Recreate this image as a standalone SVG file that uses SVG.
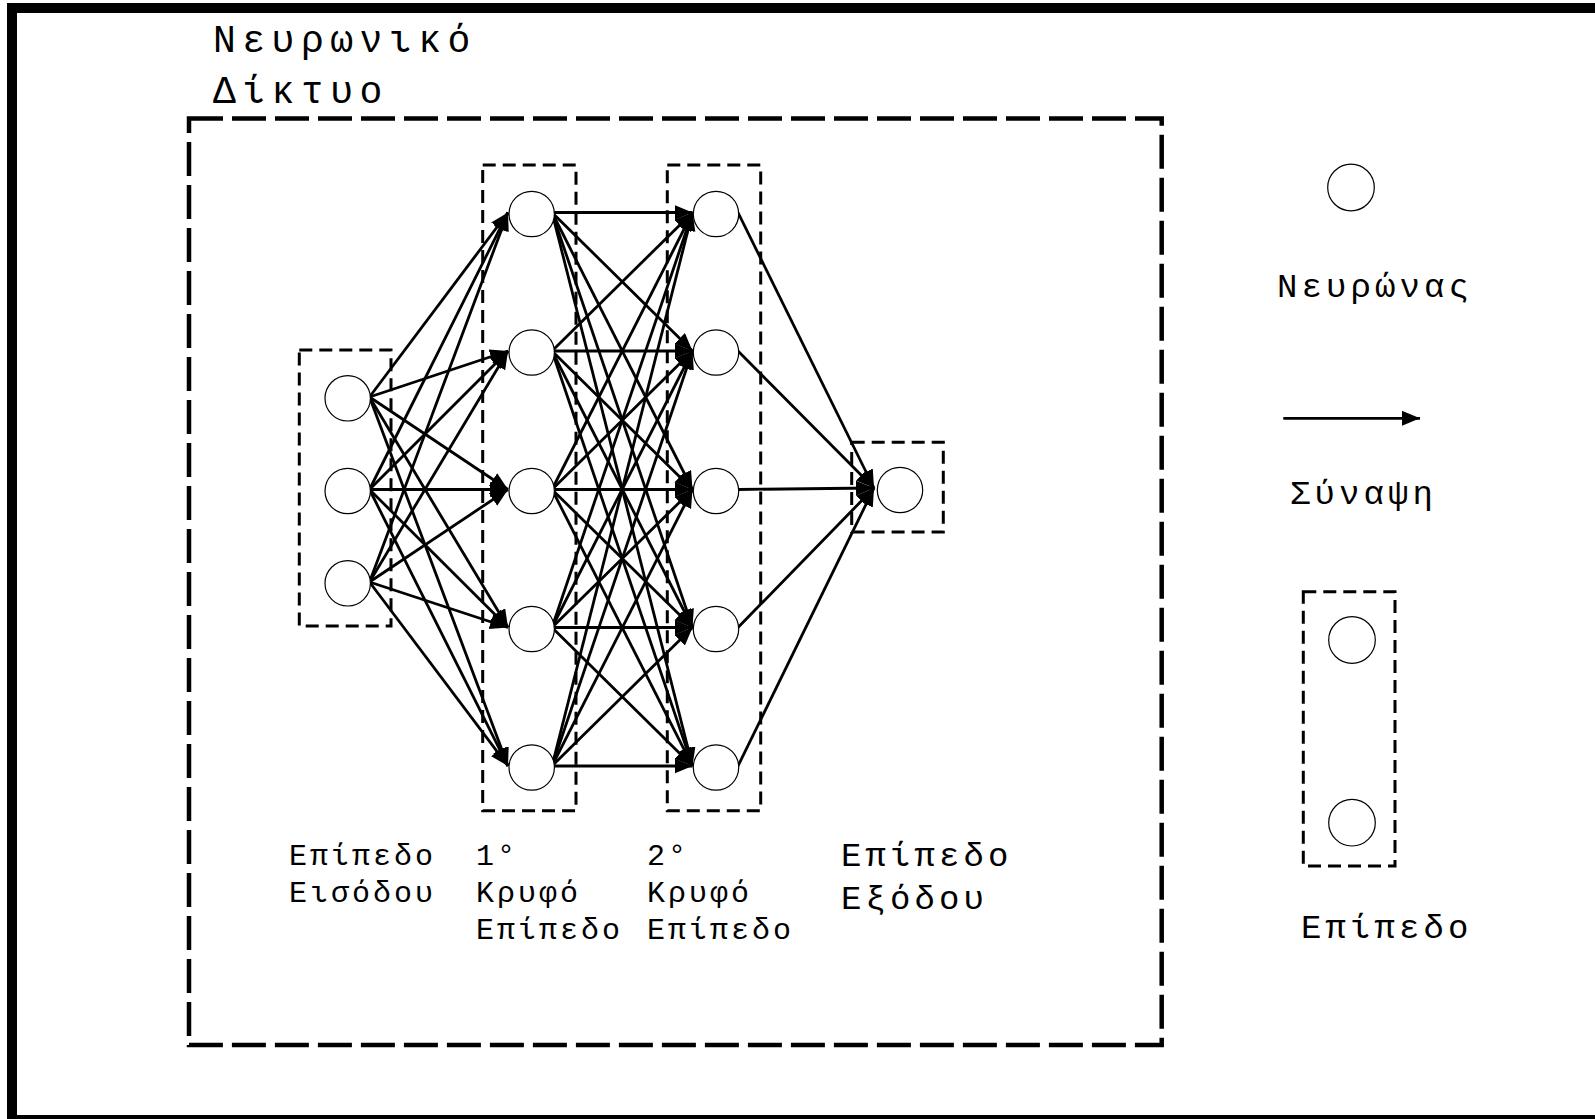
<svg xmlns="http://www.w3.org/2000/svg" width="1595" height="1119" viewBox="0 0 1595 1119">
<defs>
<style>
.txt{font-family:"Liberation Mono","DejaVu Sans Mono",monospace;fill:#000}
.t1{font-size:38px;letter-spacing:6.5px}
.t2{font-size:34px;letter-spacing:4.1px}
.t3{font-size:30px;letter-spacing:3px}
.neuron{fill:#fff;stroke:#000;stroke-width:1.2}
.layer{fill:none;stroke:#000;stroke-width:3;stroke-dasharray:13 7}
.conn line{stroke:#000;stroke-width:2.8;marker-end:url(#ah)}
</style>
<marker id="ah" markerUnits="userSpaceOnUse" markerWidth="20" markerHeight="16" refX="18" refY="7.5" orient="auto">
<path d="M0,0 L18,7.5 L0,15 z" fill="#000"/>
</marker>
</defs>
<rect width="1595" height="1119" fill="#fff"/>
<rect x="12" y="8" width="1600" height="1112" fill="none" stroke="#000" stroke-width="10"/>
<rect id="network-frame" x="189" y="118.5" width="972.7" height="926.5" fill="none" stroke="#000" stroke-width="4.5" stroke-dasharray="34 9"/>
<text class="txt t1" x="213" y="51.5">Νευρωνικό</text>
<text class="txt t1" x="213" y="102.5">Δίκτυο</text>

<g id="layer-input"><rect class="layer" x="299.3" y="350" width="91.7" height="276"/></g>
<g id="layer-hidden1"><rect class="layer" x="482.7" y="165" width="93.3" height="645.7"/></g>
<g id="layer-hidden2"><rect class="layer" x="667.3" y="165" width="93.4" height="645.7"/></g>
<g id="layer-output"><rect class="layer" x="851.7" y="442.3" width="91.6" height="89.7"/></g>

<g id="connectors" class="conn">
<line x1="369.5" y1="397" x2="508" y2="212.5"/>
<line x1="369.5" y1="397" x2="508" y2="351"/>
<line x1="369.5" y1="397" x2="508" y2="489.5"/>
<line x1="369.5" y1="397" x2="508" y2="627.5"/>
<line x1="369.5" y1="397" x2="508" y2="766"/>
<line x1="369.5" y1="489.5" x2="508" y2="212.5"/>
<line x1="369.5" y1="489.5" x2="508" y2="351"/>
<line x1="369.5" y1="489.5" x2="508" y2="489.5"/>
<line x1="369.5" y1="489.5" x2="508" y2="627.5"/>
<line x1="369.5" y1="489.5" x2="508" y2="766"/>
<line x1="369.5" y1="582" x2="508" y2="212.5"/>
<line x1="369.5" y1="582" x2="508" y2="351"/>
<line x1="369.5" y1="582" x2="508" y2="489.5"/>
<line x1="369.5" y1="582" x2="508" y2="627.5"/>
<line x1="369.5" y1="582" x2="508" y2="766"/>

<line x1="552" y1="212.5" x2="692.5" y2="212.5"/>
<line x1="552" y1="212.5" x2="692.5" y2="351"/>
<line x1="552" y1="212.5" x2="692.5" y2="489.5"/>
<line x1="552" y1="212.5" x2="692.5" y2="627.5"/>
<line x1="552" y1="212.5" x2="692.5" y2="766"/>
<line x1="552" y1="351" x2="692.5" y2="212.5"/>
<line x1="552" y1="351" x2="692.5" y2="351"/>
<line x1="552" y1="351" x2="692.5" y2="489.5"/>
<line x1="552" y1="351" x2="692.5" y2="627.5"/>
<line x1="552" y1="351" x2="692.5" y2="766"/>
<line x1="552" y1="489.5" x2="692.5" y2="212.5"/>
<line x1="552" y1="489.5" x2="692.5" y2="351"/>
<line x1="552" y1="489.5" x2="692.5" y2="489.5"/>
<line x1="552" y1="489.5" x2="692.5" y2="627.5"/>
<line x1="552" y1="489.5" x2="692.5" y2="766"/>
<line x1="552" y1="627.5" x2="692.5" y2="212.5"/>
<line x1="552" y1="627.5" x2="692.5" y2="351"/>
<line x1="552" y1="627.5" x2="692.5" y2="489.5"/>
<line x1="552" y1="627.5" x2="692.5" y2="627.5"/>
<line x1="552" y1="627.5" x2="692.5" y2="766"/>
<line x1="552" y1="766" x2="692.5" y2="212.5"/>
<line x1="552" y1="766" x2="692.5" y2="351"/>
<line x1="552" y1="766" x2="692.5" y2="489.5"/>
<line x1="552" y1="766" x2="692.5" y2="627.5"/>
<line x1="552" y1="766" x2="692.5" y2="766"/>

<line x1="738" y1="212.5" x2="874" y2="488"/>
<line x1="738" y1="351" x2="874" y2="488"/>
<line x1="738" y1="489.5" x2="874" y2="488"/>
<line x1="738" y1="627.5" x2="874" y2="488"/>
<line x1="738" y1="766" x2="874" y2="488"/>

<line x1="1283.3" y1="418.3" x2="1420" y2="418.3"/>
</g>

<g id="input-nodes">
<circle id="in1" class="neuron" cx="347.7" cy="398.3" r="22.7"/>
<circle id="in2" class="neuron" cx="347.7" cy="491" r="22.7"/>
<circle id="in3" class="neuron" cx="347.7" cy="583.3" r="22.7"/>
</g>
<g id="hidden1-nodes">
<circle id="h1a" class="neuron" cx="531.7" cy="214" r="22.7"/>
<circle id="h1b" class="neuron" cx="531.7" cy="352.5" r="22.7"/>
<circle id="h1c" class="neuron" cx="531.7" cy="491" r="22.7"/>
<circle id="h1d" class="neuron" cx="531.7" cy="629" r="22.7"/>
<circle id="h1e" class="neuron" cx="531.7" cy="767.5" r="22.7"/>
</g>
<g id="hidden2-nodes">
<circle id="h2a" class="neuron" cx="716" cy="214" r="22.7"/>
<circle id="h2b" class="neuron" cx="716" cy="352.5" r="22.7"/>
<circle id="h2c" class="neuron" cx="716" cy="491" r="22.7"/>
<circle id="h2d" class="neuron" cx="716" cy="629" r="22.7"/>
<circle id="h2e" class="neuron" cx="716" cy="767.5" r="22.7"/>
</g>
<g id="output-node">
<circle id="out1" class="neuron" cx="900" cy="490" r="22.7"/>
</g>

<g id="labels">
<text class="txt t3" x="289" y="865">Επίπεδο</text>
<text class="txt t3" x="289" y="902">Εισόδου</text>
<text class="txt t3" x="476" y="865">1°</text>
<text class="txt t3" x="476" y="902">Κρυφό</text>
<text class="txt t3" x="476" y="939">Επίπεδο</text>
<text class="txt t3" x="647" y="865">2°</text>
<text class="txt t3" x="647" y="902">Κρυφό</text>
<text class="txt t3" x="647" y="939">Επίπεδο</text>
<text class="txt t2" x="841" y="866">Επίπεδο</text>
<text class="txt t2" x="841" y="909">Εξόδου</text>
</g>

<g id="legend-neuron">
<circle class="neuron" cx="1351" cy="187.5" r="23.3"/>
<text class="txt t2" x="1277" y="297">Νευρώνας</text>
</g>
<g id="legend-synapse">
<text class="txt t2" x="1290" y="504">Σύναψη</text>
</g>
<g id="legend-layer">
<rect class="layer" x="1303.3" y="591.7" width="91.7" height="274.3"/>
<circle class="neuron" cx="1352" cy="640" r="23.3"/>
<circle class="neuron" cx="1352" cy="822.7" r="23.3"/>
<text class="txt t2" x="1301" y="938">Επίπεδο</text>
</g>
</svg>
